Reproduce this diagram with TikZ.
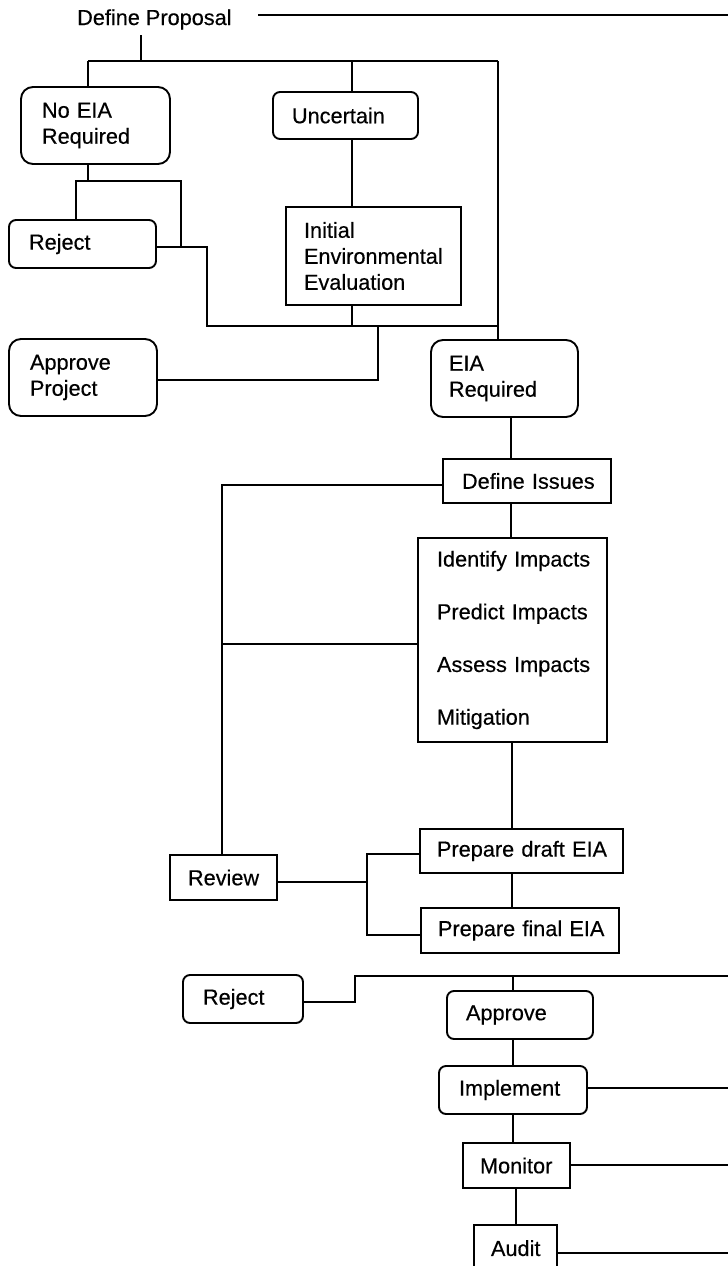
\documentclass[tikz,border=0pt]{standalone}
\usepackage{fontspec}
\setmainfont{Liberation Sans}[FakeBold=0.4]
\begin{document}
\begin{tikzpicture}[x=1pt,y=-1pt,
  ln/.style={line width=1.9pt},
  tx/.style={font=\fontsize{21.7}{26}\selectfont},
  sbox/.style={tx,draw,line width=1.9pt,align=left,inner ysep=0pt,inner xsep=19pt},
  rbox/.style={sbox,rounded corners=7pt},
  rbig/.style={sbox,rounded corners=12pt},
]
\useasboundingbox (0,0) rectangle (728,1266);
\clip (0,0) rectangle (728,1266);

% nodes
\node[tx,inner sep=0pt,anchor=base west] (dp) at (77,25) {Define Proposal};
\node[rbig,inner xsep=21pt,text width=107pt,minimum height=77pt] (noeia) at (95.5,125.5) {\mbox{No EIA}\\Required};
\node[rbox,text width=107pt,minimum height=47pt] (unc) at (345.5,115.5) {Uncertain};
\node[sbox,inner xsep=18pt,text width=139pt,minimum height=98pt] (iee) at (373.5,256) {Initial\\\mbox{Environmental}\\Evaluation};
\node[rbox,inner xsep=20pt,text width=107pt,minimum height=48pt] (rej1) at (82.5,244) {Reject};
\node[rbig,inner xsep=21pt,text width=106pt,minimum height=77pt] (apr) at (83,377.5) {Approve\\Project};
\node[rbig,inner xsep=18pt,text width=111pt,minimum height=77pt] (eiar) at (504.5,378.5) {EIA\\Required};
\node[sbox,text width=130pt,minimum height=44pt] (di) at (527,481) {\mbox{Define Issues}};
\node[sbox,text width=151pt,minimum height=204pt] (imp) at (512.5,640)
  {\mbox{Identify Impacts}\\[26.7pt]\mbox{Predict Impacts}\\[26.7pt]\mbox{Assess Impacts}\\[26.7pt]Mitigation};
\node[sbox,inner xsep=17pt,text width=169pt,minimum height=44pt] (draft) at (521.5,851) {\mbox{Prepare draft EIA}};
\node[sbox,inner xsep=17pt,text width=164pt,minimum height=45pt] (final) at (520,930.5) {\mbox{Prepare final EIA}};
\node[sbox,inner xsep=18pt,text width=71pt,minimum height=45pt] (rev) at (223.5,877.5) {Review};
\node[rbox,inner xsep=20pt,text width=80pt,minimum height=48pt] (rej2) at (243,999) {Reject};
\node[rbox,inner xsep=19pt,text width=108pt,minimum height=48pt] (appr) at (520,1015) {Approve};
\node[rbox,inner xsep=20pt,text width=108pt,minimum height=48pt] (impl) at (513,1090) {Implement};
\node[sbox,inner xsep=17pt,text width=73pt,minimum height=45pt] (mon) at (516.5,1165.5) {Monitor};
\node[sbox,inner xsep=17pt,text width=49pt,anchor=north,text height=16pt,text depth=4pt,inner ysep=15pt] (aud) at (515.5,1224) {Audit};

% coordinates
\coordinate (dpb) at (141,35);
\coordinate (j0) at (141,61);
\coordinate (jL) at (88,61);
\coordinate (jM) at (352,61);
\coordinate (jR) at (498,61);
\coordinate (dpr) at (258,15);
\coordinate (edge0) at (728,15);
\coordinate (b1) at (88,181);
\coordinate (b1L) at (76,181);
\coordinate (b1R) at (181,181);
\coordinate (r1) at (207,247);
\coordinate (r2) at (207,326);
\coordinate (r3) at (498,326);
\coordinate (a1) at (378,326);
\coordinate (a2) at (378,380);
\coordinate (cx1) at (511,417);
\coordinate (l1) at (222,485);
\coordinate (l2) at (222,644);
\coordinate (cx2) at (512,0);
\coordinate (bk) at (367,882);
\coordinate (bkT) at (367,854);
\coordinate (bkB) at (367,935);
\coordinate (q1) at (355,1002);
\coordinate (q2) at (355,976);
\coordinate (q3) at (728,976);
\coordinate (cx3) at (513,976);
\coordinate (cx4) at (516,0);
\coordinate (ri1) at (728,1088);
\coordinate (ri2) at (728,1165);
\coordinate (ri3) at (728,1253);

% connectors
\draw[ln] (dpr) -- (edge0);
\draw[ln] (dpb) -- (j0);
\draw[ln] (jL) -- (jR);
\draw[ln] (jL) -- (jL |- noeia.north);
\draw[ln] (jM) -- (jM |- unc.north);
\draw[ln] (jM |- unc.south) -- (jM |- iee.north);
\draw[ln] (jR) -- (jR |- eiar.north);
\draw[ln] (jL |- noeia.south) -- (b1);
\draw[ln] (b1L |- rej1.north) -- (b1L) -- (b1R) -- (b1R |- r1);
\draw[ln] (rej1.east |- r1) -- (r1) -- (r2) -- (r3);
\draw[ln] (jM |- iee.south) -- (jM |- r2);
\draw[ln] (a1) -- (a2) -- (apr.east |- a2);
\draw[ln] (cx1 |- eiar.south) -- (cx1 |- di.north);
\draw[ln] (di.west |- l1) -- (l1) -- (l1 |- rev.north);
\draw[ln] (l2) -- (imp.west |- l2);
\draw[ln] (cx1 |- di.south) -- (cx1 |- imp.north);
\draw[ln] (cx2 |- imp.south) -- (cx2 |- draft.north);
\draw[ln] (cx2 |- draft.south) -- (cx2 |- final.north);
\draw[ln] (rev.east |- bk) -- (bk);
\draw[ln] (draft.west |- bkT) -- (bkT) -- (bkB) -- (final.west |- bkB);
\draw[ln] (rej2.east |- q1) -- (q1) -- (q2) -- (q3);
\draw[ln] (cx3) -- (cx3 |- appr.north);
\draw[ln] (cx3 |- appr.south) -- (cx3 |- impl.north);
\draw[ln] (cx3 |- impl.south) -- (cx3 |- mon.north);
\draw[ln] (cx4 |- mon.south) -- (cx4 |- aud.north);
\draw[ln] (impl.east |- ri1) -- (ri1);
\draw[ln] (mon.east |- ri2) -- (ri2);
\draw[ln] (aud.east |- ri3) -- (ri3);
\end{tikzpicture}
\end{document}
